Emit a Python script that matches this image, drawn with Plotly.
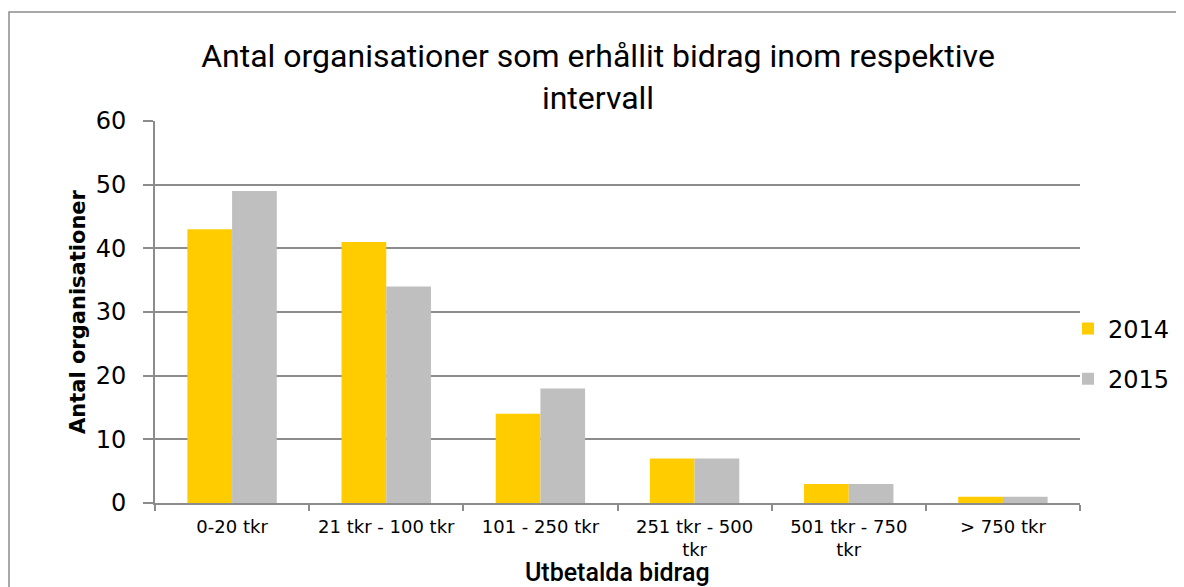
import plotly.graph_objects as go

categories = ["0-20 tkr", "21 tkr - 100 tkr", "101 - 250 tkr", "251 tkr - 500<br>tkr", "501 tkr - 750<br>tkr", "> 750 tkr"]
series_names = ["2014", "2015"]
values_2014 = [43, 41, 14, 7, 3, 1]
values_2015 = [49, 34, 18, 7, 3, 1]
y_ticks = [0, 10, 20, 30, 40, 50, 60]

colors = ["#FFCC00", "#BFBFBF"]
dv = "DejaVu Sans, Verdana, sans-serif"
ttl = "Roboto, Liberation Sans, sans-serif"
axis_gray = "#8C8C8C"

fig = go.Figure()
for name, vals, c in zip(series_names, [values_2014, values_2015], colors):
    fig.add_trace(go.Bar(x=categories, y=vals, name=name, legendgroup=name,
                         marker=dict(color=c, line=dict(width=0))))

# figure is placed 8px from page edges (body margin)
W, H = 1176, 579
L, R, T, B = 147, 104, 113, 84
pw, ph = W - L - R, H - T - B

fig.update_layout(
    width=W, height=H,
    margin=dict(l=L, r=R, t=T, b=B, autoexpand=False),
    paper_bgcolor="white", plot_bgcolor="white",
    barmode="group", bargap=0.42, bargroupgap=0,
    title=dict(text="Antal organisationer som erhållit bidrag inom respektive<br>intervall",
               x=590 / W, xanchor="center", y=1 - 59 / H, yanchor="middle",
               font=dict(family=ttl, size=32, color="black", weight=400)),
    legend=dict(x=(1060 - L) / pw, y=(H - B - 346) / ph, xanchor="left", yanchor="middle",
                font=dict(family=dv, size=24, color="black"),
                bgcolor="rgba(0,0,0,0)", tracegroupgap=16, itemwidth=30),
    xaxis=dict(showline=True, linecolor=axis_gray, linewidth=2, ticks="outside", tickson="boundaries",
               ticklen=6, tickcolor=axis_gray, tickwidth=2, tickangle=0, automargin=False,
               tickfont=dict(family=dv, size=18, color="black"), ticklabelstandoff=6),
    yaxis=dict(range=[0, 60], tickvals=y_ticks, showline=True, linecolor=axis_gray, linewidth=2,
               ticks="outside", ticklen=10, tickcolor=axis_gray, tickwidth=2, automargin=False,
               showgrid=True, gridcolor=axis_gray, gridwidth=2,
               tickfont=dict(family=dv, size=24, color="black"), ticklabelstandoff=12,
               title=dict(text="<b>Antal organisationer</b>", font=dict(family=dv, size=21, color="black"), standoff=4)),
)

fig.add_annotation(text="Utbetalda bidrag", xref="paper", yref="paper", x=0.5, y=-(564 - T - ph) / ph,
                   xanchor="center", yanchor="middle", showarrow=False,
                   font=dict(family=ttl, size=25, color="black", weight=500))

fig.add_shape(type="rect", xref="paper", yref="paper",
              x0=(1 - L) / pw, x1=(W + 20 - L) / pw,
              y0=-(B + 20) / ph, y1=1 + (T - 4) / ph,
              line=dict(color=axis_gray, width=1.5), fillcolor="rgba(0,0,0,0)", layer="below")

fig.write_html("out.html")
